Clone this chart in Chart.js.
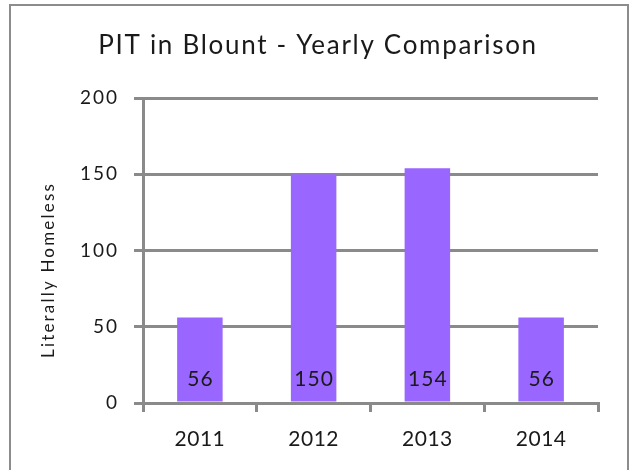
<!DOCTYPE html>
<html>
<head>
<meta charset="utf-8">
<script src="https://cdn.jsdelivr.net/npm/chart.js@4"></script>
<style>
  html, body { margin: 0; padding: 0; background: #fff; width: 629px; height: 470px; overflow: hidden; }
  #frame { position: absolute; left: 9px; top: 4px; width: 616px; height: 480px; border: 2px solid #8c8c8c; }
  #wrap { position: absolute; left: 0; top: 0; width: 629px; height: 470px; }
</style>
</head>
<body>
<div id="frame"></div>
<div id="wrap"><canvas id="c" width="629" height="470"></canvas></div>
<script>
const chartTitle = "PIT in Blount - Yearly Comparison";
const yAxisTitle = "Literally Homeless";
const categories = ["2011", "2012", "2013", "2014"];
const homeless = [56, 150, 154, 56];
const yTicks = [0, 50, 100, 150, 200];

const FONT = "Lato, 'Open Sans', sans-serif";
const GRID = "#8a8a8a";
const TEXT = "#1a1a1a";

function spaced(ctx, px) {
  if ('letterSpacing' in ctx) ctx.letterSpacing = px + "px";
}

const textPlugin = {
  id: 'textPlugin',
  beforeDraw(chart) {
    const ctx = chart.ctx;
    const wrap = (scale, px) => {
      if (scale.__wrapped) return;
      const orig = scale.drawLabels.bind(scale);
      scale.drawLabels = function (area) {
        ctx.save(); spaced(ctx, px); orig(area); ctx.restore();
      };
      scale.__wrapped = true;
    };
    wrap(chart.scales.y, 2);
    wrap(chart.scales.x, 0.5);
  },
  afterDraw(chart) {
    const ctx = chart.ctx;
    // chart title
    ctx.save();
    spaced(ctx, 1.7);
    ctx.font = "26px " + FONT;
    ctx.fillStyle = TEXT;
    ctx.textAlign = "center";
    ctx.textBaseline = "alphabetic";
    ctx.fillText(chartTitle, 318, 54);
    ctx.restore();
    // y axis title
    ctx.save();
    spaced(ctx, 2.2);
    ctx.font = "17px " + FONT;
    ctx.fillStyle = TEXT;
    ctx.translate(49, 270);
    ctx.rotate(-Math.PI / 2);
    ctx.textAlign = "center";
    ctx.textBaseline = "middle";
    ctx.fillText(yAxisTitle, 0, 0);
    ctx.restore();
  },
  afterDatasetsDraw(chart) {
    const ctx = chart.ctx;
    const meta = chart.getDatasetMeta(0);
    const base = chart.scales.y.getPixelForValue(0);
    ctx.save();
    spaced(ctx, 1);
    ctx.font = "21px " + FONT;
    ctx.fillStyle = TEXT;
    ctx.textAlign = "center";
    ctx.textBaseline = "alphabetic";
    meta.data.forEach((bar, i) => {
      ctx.fillText(String(homeless[i]), bar.x + 0.5, base - 17);
    });
    ctx.restore();
  }
};

new Chart(document.getElementById('c'), {
  type: 'bar',
  data: {
    labels: categories,
    datasets: [{
      data: homeless,
      backgroundColor: "#9966ff",
      borderWidth: 0,
      barPercentage: 0.4,
      categoryPercentage: 1.0
    }]
  },
  options: {
    responsive: false,
    animation: false,
    devicePixelRatio: 1,
    layout: { padding: { left: 0, right: 31, top: 98, bottom: 0 } },
    plugins: {
      legend: { display: false },
      title: { display: false },
      tooltip: { enabled: false }
    },
    scales: {
      y: {
        min: 0, max: 200,
        afterBuildTicks(scale) { scale.ticks = yTicks.map(v => ({ value: v })); },
        afterFit(scale) { scale.width = 143; },
        grid: { color: GRID, lineWidth: 3, tickLength: 9, drawTicks: true },
        border: { display: true, color: GRID, width: 3 },
        ticks: { color: TEXT, font: { family: FONT, size: 19 }, padding: 15 }
      },
      x: {
        afterFit(scale) { scale.height = 67; },
        grid: { color: GRID, lineWidth: 3, tickLength: 9, drawOnChartArea: false, offset: true },
        border: { display: true, color: GRID, width: 3 },
        ticks: { color: TEXT, font: { family: FONT, size: 21 }, padding: 15, maxRotation: 0 }
      }
    }
  },
  plugins: [textPlugin]
});
</script>
</body>
</html>
